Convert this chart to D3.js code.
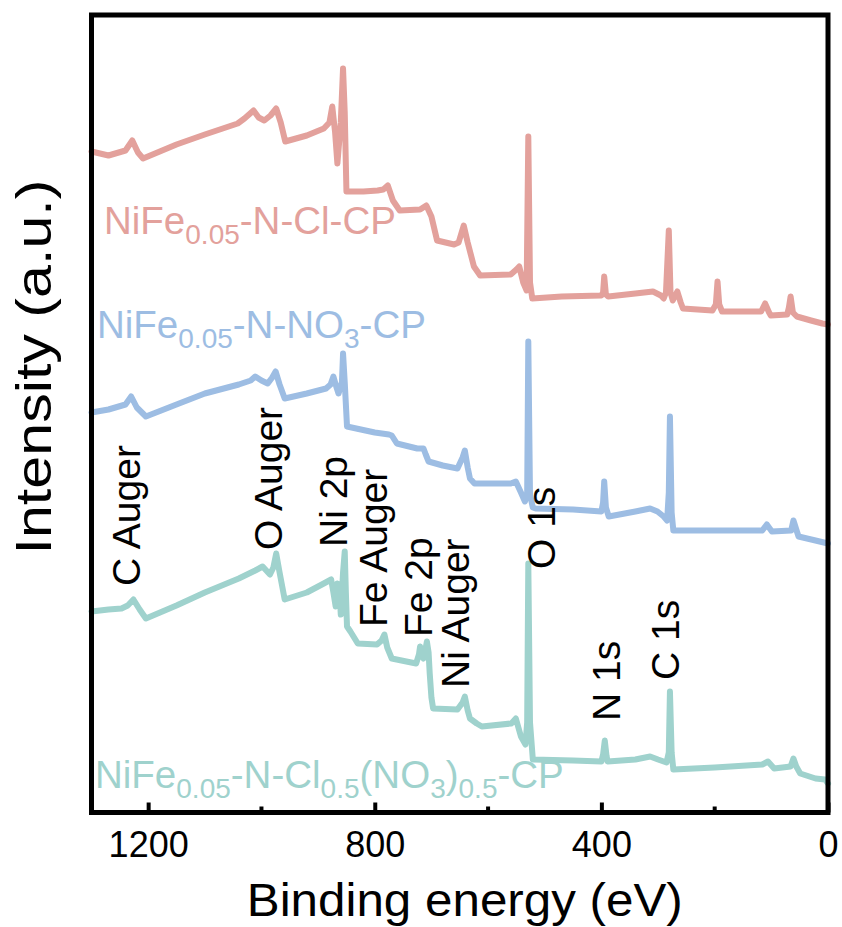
<!DOCTYPE html>
<html>
<head>
<meta charset="utf-8">
<script src="https://cdn.jsdelivr.net/npm/d3@7"></script>
<style>
  body { margin: 0; background: #fff; }
  svg { display: block; font-family: "Liberation Sans", Arial, sans-serif; }
</style>
</head>
<body>
<svg id="chart" width="842" height="927"></svg>
<script>
// XPS survey spectra, [binding energy (eV), intensity (a.u.)]
const clSpectrum = [
  [1300, 661], [1270, 657], [1240, 662], [1228, 672], [1218, 660], [1209, 654],
  [1150, 668], [1100, 678], [1042, 689], [1030, 694], [1014, 702], [1005, 695],
  [995, 692], [984, 697], [974, 704], [966, 690], [958, 671], [920, 677],
  [890, 684], [880, 690], [875, 706], [870, 680], [866, 649], [860, 690],
  [856, 744], [853, 700], [850, 621], [820, 621], [795, 622], [785, 623],
  [777, 627], [768, 612], [756, 602], [720, 603], [709, 607], [700, 596],
  [690, 572], [660, 568], [652, 570], [643, 587], [636, 570], [625, 546],
  [614, 537], [560, 538], [550, 543], [545, 546], [538, 530], [532, 522],
  [529, 676], [526, 530], [522, 514], [470, 516], [400, 517], [397, 520],
  [395, 536], [392, 518], [388, 516], [340, 519], [309, 521], [295, 517],
  [290, 514], [286, 520], [281, 582], [278, 520], [274, 512], [266, 521],
  [260, 510], [256, 504], [230, 503], [204, 502], [198, 508], [195, 531],
  [192, 508], [187, 501], [150, 501], [118, 501], [111, 509], [104, 500],
  [101, 497], [72, 498], [69, 505], [66, 516], [62, 500], [55, 496],
  [30, 492], [10, 489], [0, 488]
];
const no3Spectrum = [
  [1300, 400], [1270, 403], [1240, 408], [1230, 416], [1220, 405], [1204, 396],
  [1150, 408], [1100, 419], [1040, 428], [1019, 432], [1011, 436], [1000, 432],
  [989, 429], [981, 435], [975, 441], [968, 428], [959, 414], [920, 419],
  [886, 424], [878, 428], [873, 436], [868, 426], [864, 419], [858, 430],
  [856, 459], [853, 430], [849, 386], [800, 380], [775, 378], [770, 377],
  [761, 369], [725, 364], [714, 364], [710, 358], [705, 351], [680, 347],
  [654, 344], [645, 355], [641, 362], [636, 345], [632, 334], [624, 329],
  [560, 329], [551, 331], [542, 320], [535, 311], [531, 318], [529, 471],
  [526, 318], [521, 305], [516, 304], [450, 303], [400, 301], [397, 310],
  [395, 331], [392, 305], [387, 296], [340, 301], [314, 304], [301, 301],
  [290, 296], [284, 292], [281, 320], [279, 396], [276, 300], [273, 282],
  [200, 282], [116, 282], [108, 288], [99, 281], [65, 282], [61, 292],
  [56, 283], [52, 276], [22, 272], [0, 269]
];
const mixSpectrum = [
  [1300, 201], [1270, 203], [1247, 204], [1236, 207], [1226, 213], [1215, 203],
  [1204, 194], [1150, 207], [1100, 220], [1040, 234], [1011, 242], [998, 246],
  [985, 238], [979, 245], [974, 259], [968, 240], [959, 213], [920, 220],
  [890, 229], [877, 233], [873, 220], [869, 206], [866, 229], [862, 220],
  [860, 198], [856, 240], [853, 261], [851, 220], [849, 186], [843, 181],
  [830, 169], [796, 168], [788, 172], [783, 178], [778, 165], [770, 154],
  [727, 149], [722, 158], [720, 166], [716, 156], [714, 154], [710, 165],
  [708, 171], [705, 160], [703, 139], [700, 115], [697, 104], [654, 103],
  [645, 110], [641, 116], [636, 102], [632, 94], [620, 89], [611, 86],
  [559, 89], [551, 94], [542, 76], [534, 68], [531, 90], [529, 249],
  [526, 90], [521, 53], [450, 52], [400, 51], [397, 58], [394, 72],
  [391, 57], [389, 51], [340, 53], [314, 56], [300, 53], [285, 50],
  [281, 60], [279, 121], [276, 60], [273, 43], [200, 45], [116, 48],
  [106, 51], [95, 44], [66, 46], [61, 54], [56, 46], [49, 39],
  [22, 34], [5, 33], [0, 29]
];

const seriesColors = ["#e3a19c", "#9dbde3", "#9fd2cd"];
// label pieces: [text, isSubscript]
const seriesNames = [
  [["NiFe", 0], ["0.05", 1], ["-N-Cl-CP", 0]],
  [["NiFe", 0], ["0.05", 1], ["-N-NO", 0], ["3", 1], ["-CP", 0]],
  [["NiFe", 0], ["0.05", 1], ["-N-Cl", 0], ["0.5", 1], ["(NO", 0], ["3", 1], [")", 0], ["0.5", 1], ["-CP", 0]]
];
const seriesLabelPos = [[104, 234], [97, 338], [95, 788]];

const peakNames = ["C Auger", "O Auger", "Ni 2p", "Fe Auger", "Fe 2p", "Ni Auger", "O 1s", "N 1s", "C 1s"];
const peakLabelPos = [[140, 586], [282, 550], [347, 547], [387, 627], [432, 637], [469, 688], [555, 569], [620, 721], [679, 680]];

const majorTicks = [1200, 800, 400, 0];
const minorTicks = [1000, 600, 200];

const svg = d3.select("#chart");
const plotLeft = 91.5, plotRight = 828, plotTop = 15, plotBottom = 812.5;

const x = d3.scaleLinear().domain([1300, 0]).range([plotLeft, plotRight]);
const y = d3.scaleLinear().domain([0, 800]).range([plotBottom, plotBottom - 800]);

const line = d3.line().x(d => x(d[0])).y(d => y(d[1]));

svg.append("g")
  .selectAll("path")
  .data([clSpectrum, no3Spectrum, mixSpectrum])
  .join("path")
  .attr("d", line)
  .attr("fill", "none")
  .attr("stroke", (d, i) => seriesColors[i])
  .attr("stroke-width", 6)
  .attr("stroke-linejoin", "round")
  .attr("stroke-linecap", "round");

// series names with subscripts
seriesNames.forEach((parts, i) => {
  const t = svg.append("text")
    .attr("x", seriesLabelPos[i][0])
    .attr("y", seriesLabelPos[i][1])
    .attr("fill", seriesColors[i])
    .style("font-size", "38.5px");
  let prevSub = 0;
  parts.forEach(([s, sub]) => {
    t.append("tspan")
      .attr("dy", sub === prevSub ? 0 : (sub ? 10 : -10))
      .style("font-size", sub ? "28px" : "38.5px")
      .text(s);
    prevSub = sub;
  });
});

// peak labels
svg.append("g")
  .selectAll("text")
  .data(peakNames)
  .join("text")
  .attr("transform", (d, i) => `translate(${peakLabelPos[i][0]},${peakLabelPos[i][1]}) rotate(-90)`)
  .style("font-size", "39px")
  .attr("fill", "#000")
  .text(d => d);

// bottom axis
const xAxis = d3.axisBottom(x).tickValues(majorTicks).tickFormat(d3.format("d"))
  .tickSizeInner(-10).tickSizeOuter(0).tickPadding(0);
const ax = svg.append("g").attr("transform", `translate(0,${plotBottom})`).call(xAxis);
ax.select(".domain").remove();
ax.selectAll(".tick line").attr("stroke", "#000").attr("stroke-width", 4);
ax.selectAll(".tick text")
  .attr("y", 44).attr("dy", 0)
  .attr("fill", "#000")
  .style("font-size", "36px")
  .style("font-family", "'Liberation Sans', Arial, sans-serif");

svg.append("g")
  .selectAll("line")
  .data(minorTicks)
  .join("line")
  .attr("x1", d => x(d)).attr("x2", d => x(d))
  .attr("y1", plotBottom).attr("y2", plotBottom - 6)
  .attr("stroke", "#000").attr("stroke-width", 4);

// frame
svg.append("rect")
  .attr("x", plotLeft).attr("y", plotTop)
  .attr("width", plotRight - plotLeft).attr("height", plotBottom - plotTop)
  .attr("fill", "none").attr("stroke", "#000").attr("stroke-width", 5);

svg.append("text")
  .attr("x", (plotLeft + plotRight) / 2 + 5).attr("y", 916)
  .attr("text-anchor", "middle")
  .attr("textLength", 436).attr("lengthAdjust", "spacingAndGlyphs")
  .style("font-size", "46px")
  .text("Binding energy (eV)");

svg.append("text")
  .attr("transform", `translate(51,367) rotate(-90)`)
  .attr("text-anchor", "middle")
  .attr("textLength", 375).attr("lengthAdjust", "spacingAndGlyphs")
  .style("font-size", "50px")
  .text("Intensity (a.u.)");
</script>
</body>
</html>
